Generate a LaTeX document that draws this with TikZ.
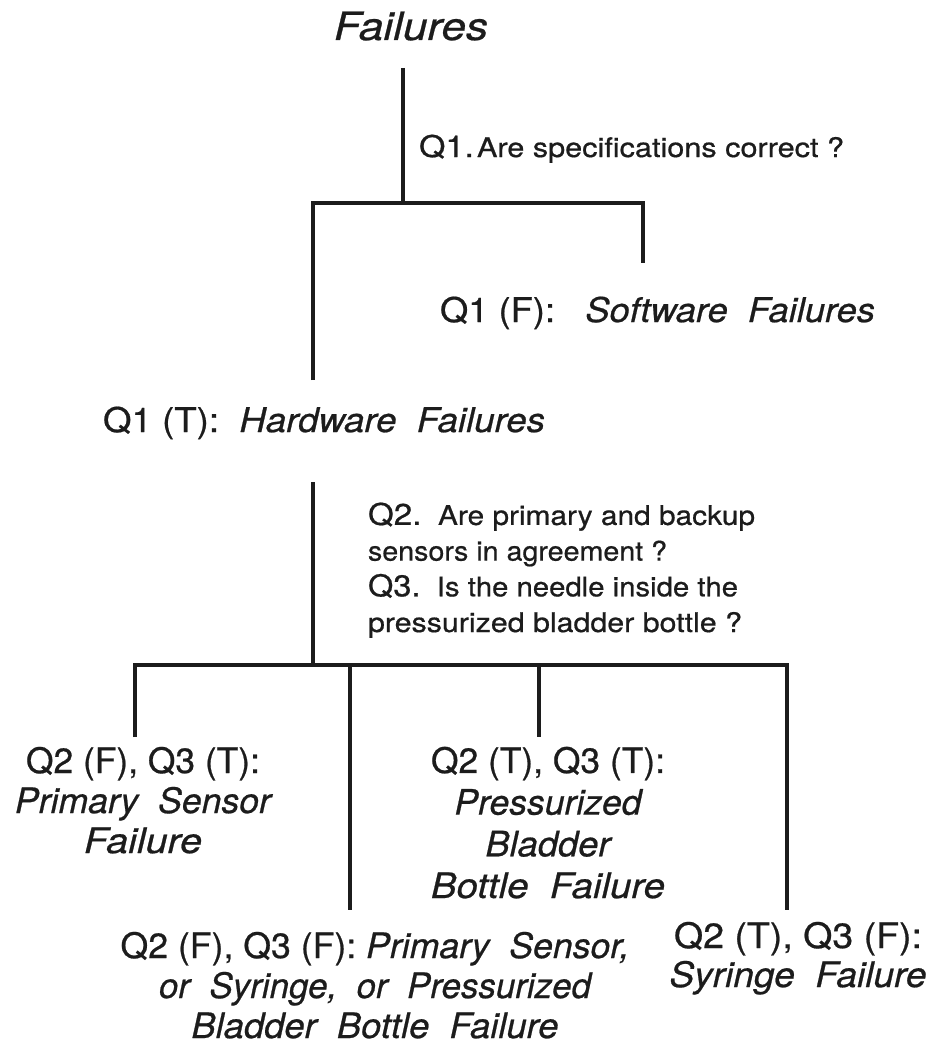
\documentclass[tikz,border=0pt]{standalone}
\usepackage{fontspec}
\setmainfont{TeX Gyre Heros}[
  UprightFeatures={FakeBold=0.6},
  ItalicFeatures={FakeBold=0.6}]
\usepackage{graphicx}
% stretch or squeeze a line of text to a given width (in pt), keeping its height
\newcommand\fw[2]{\resizebox{#1pt}{\height}{#2}}
\definecolor{ink}{RGB}{28,28,28}
\begin{document}
\begin{tikzpicture}[x=1pt,y=-1pt,
  branch/.style={draw=ink,line width=3.3pt,line join=miter},
  lbl/.style={text=ink,inner sep=0pt,outer sep=0pt},
  leaf/.style={lbl,align=center,anchor=base,font=\fontsize{35}{41}\selectfont}]
\fill[white] (0,0) rectangle (929,1046);
\useasboundingbox (0,0) rectangle (929,1046);

% ---------- labels (multi-line nodes sit on the baseline of their last line) ----------
\node[lbl,anchor=base,font=\fontsize{39}{39}\selectfont\itshape] (root) at (411,40) {\fw{154}{Failures}};

\node[lbl,anchor=base west] (q1) at (419,157)
  {\fw{425}{{\fontsize{30}{30}\selectfont Q1.}\ {\fontsize{27}{27}\selectfont Are specifications correct ?}}};

\node[lbl,anchor=base west,font=\fontsize{34}{34}\selectfont] (sw) at (440,322)
  {\fw{435}{Q1 (F):\ \ \ \textit{Software\ \ Failures}}};

\node[lbl,anchor=base west,font=\fontsize{34}{34}\selectfont] (hw) at (103,432)
  {\fw{442}{Q1 (T):\ \ \textit{Hardware\ \ Failures}}};

\node[lbl,anchor=base west,align=left,font=\fontsize{27}{35.7}\selectfont] (q23) at (368,632)
  {\fw{387}{{\fontsize{30}{30}\selectfont Q2.}\ \ Are primary and backup}\\
   \fw{299}{sensors in agreement ?}\\
   \fw{370}{{\fontsize{30}{30}\selectfont Q3.}\ \ Is the needle inside the}\\
   \fw{374}{pressurized bladder bottle ?}};

\node[leaf,font=\fontsize{35}{40}\selectfont] (ps) at (143,853)
  {\fw{234}{Q2 (F), Q3 (T):}\\
   \fw{256}{\itshape Primary\ \ Sensor}\\
   \fw{118}{\itshape Failure}};

\node[leaf,font=\fontsize{35}{41.7}\selectfont] (pb) at (548,898)
  {\fw{234}{Q2 (T), Q3 (T):}\\
   \fw{187}{\itshape Pressurized}\\
   \fw{125}{\itshape Bladder}\\
   \fw{234}{\itshape Bottle\ \ Failure}};

\node[leaf,font=\fontsize{35}{40}\selectfont] (any) at (375,1038)
  {\fw{509}{Q2 (F), Q3 (F): \textit{Primary\ \ Sensor,}}\\
   \fw{432}{\itshape or\ \ Syringe,\ \ or\ \ Pressurized}\\
   \fw{367}{\itshape Bladder\ \ Bottle\ \ Failure}};

\node[leaf,font=\fontsize{35}{39}\selectfont] (sy) at (798,987)
  {\fw{248}{Q2 (T), Q3 (F):}\\
   \fw{257}{\itshape Syringe\ \ Failure}};

% ---------- connector end points ----------
\coordinate (rootEnd) at (403,68);
\coordinate (fork1)   at (403,203);
\coordinate (forkL)   at (313,203);
\coordinate (forkR)   at (643,203);
\coordinate (swEnd)   at (643,263);
\coordinate (hwEnd)   at (313,380);
\coordinate (hwStart) at (313,482);
\coordinate (fork2)   at (313,665);
\coordinate (psTop)   at (135,665);
\coordinate (psEnd)   at (135,737);
\coordinate (anyTop)  at (350,665);
\coordinate (anyEnd)  at (350,910);
\coordinate (pbTop)   at (539,665);
\coordinate (pbEnd)   at (539,737);
\coordinate (syTop)   at (787,665);
\coordinate (syEnd)   at (787,910);

% ---------- tree ----------
\draw[branch] (rootEnd) -- (fork1);
\draw[branch] (hwEnd) -- (forkL) -- (forkR) -- (swEnd);
\draw[branch] (hwStart) -- (fork2);
\draw[branch] (psEnd) -- (psTop) -- (syTop) -- (syEnd);
\draw[branch] (anyTop) -- (anyEnd);
\draw[branch] (pbTop) -- (pbEnd);
\end{tikzpicture}
\end{document}
